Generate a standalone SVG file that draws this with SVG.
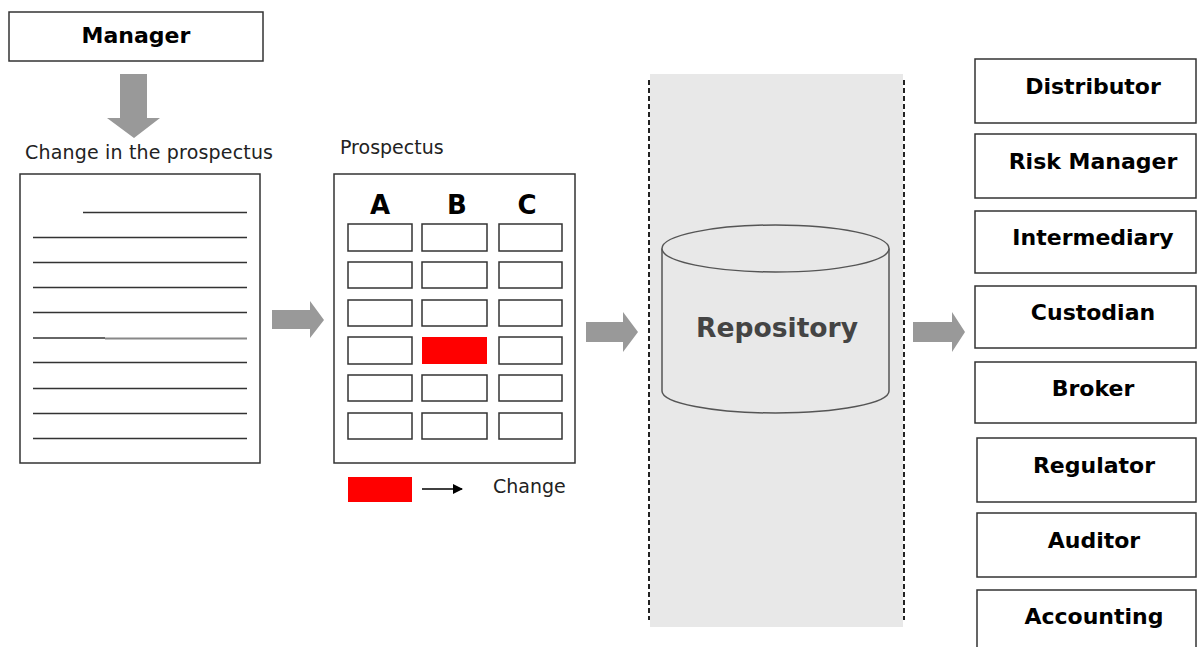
<svg xmlns="http://www.w3.org/2000/svg" width="1197" height="647" viewBox="0 0 1197 647">
<style>
.box{fill:#fff;stroke:#333;stroke-width:1.5}
.cell{fill:#fff;stroke:#333;stroke-width:1.5}
.red{fill:#f00}
.ln{stroke:#333;stroke-width:1.5}
.lbl{font-family:"DejaVu Sans",sans-serif;font-weight:bold;font-size:22px;fill:#000;text-anchor:middle}
.reg{font-family:"DejaVu Sans",sans-serif;font-size:19px;fill:#222}
.col{font-family:"DejaVu Sans",sans-serif;font-weight:bold;font-size:26px;fill:#000;text-anchor:middle}
.garrow{fill:#999}
.dash{stroke:#222;stroke-width:2;stroke-dasharray:5,3}
</style>
<defs>
<marker id="ah" markerWidth="10" markerHeight="10" refX="9" refY="5" orient="auto" markerUnits="userSpaceOnUse">
<path d="M0,0 L10,5 L0,10 Z" fill="#000"/>
</marker>
</defs>
<rect width="1197" height="647" fill="#fff"/>

<g id="manager">
<rect class="box" x="9" y="12" width="254" height="49"/>
<text class="lbl" x="136" y="43">Manager</text>
</g>

<g id="document">
<text class="reg" x="25" y="159" textLength="248" lengthAdjust="spacing">Change in the prospectus</text>
<rect class="box" x="20" y="174" width="240" height="289"/>
<line class="ln" x1="83" y1="212.5" x2="247" y2="212.5"/>
<line class="ln" x1="33" y1="237.5" x2="247" y2="237.5"/>
<line class="ln" x1="33" y1="262.5" x2="247" y2="262.5"/>
<line class="ln" x1="33" y1="287.5" x2="247" y2="287.5"/>
<line class="ln" x1="33" y1="312.5" x2="247" y2="312.5"/>
<line class="ln" x1="33" y1="338" x2="105" y2="338"/>
<line x1="105" y1="338.5" x2="247" y2="338.5" stroke="#888" stroke-width="2.2"/>
<line class="ln" x1="33" y1="362.5" x2="247" y2="362.5"/>
<line class="ln" x1="33" y1="388.5" x2="247" y2="388.5"/>
<line class="ln" x1="33" y1="413.5" x2="247" y2="413.5"/>
<line class="ln" x1="33" y1="438.5" x2="247" y2="438.5"/>
</g>

<g id="prospectus">
<text class="reg" x="340" y="154">Prospectus</text>
<rect class="box" x="334" y="174" width="241" height="289"/>
<text class="col" x="380" y="214">A</text>
<text class="col" x="457" y="214">B</text>
<text class="col" x="527" y="214">C</text>
<g>
<rect class="cell" x="348" y="224" width="64" height="27"/>
<rect class="cell" x="422" y="224" width="65" height="27"/>
<rect class="cell" x="499" y="224" width="63" height="27"/>
<rect class="cell" x="348" y="262" width="64" height="26"/>
<rect class="cell" x="422" y="262" width="65" height="26"/>
<rect class="cell" x="499" y="262" width="63" height="26"/>
<rect class="cell" x="348" y="300" width="64" height="26"/>
<rect class="cell" x="422" y="300" width="65" height="26"/>
<rect class="cell" x="499" y="300" width="63" height="26"/>
<rect class="cell" x="348" y="337" width="64" height="27"/>
<rect class="red" x="422" y="337" width="65" height="27"/>
<rect class="cell" x="499" y="337" width="63" height="27"/>
<rect class="cell" x="348" y="375" width="64" height="26"/>
<rect class="cell" x="422" y="375" width="65" height="26"/>
<rect class="cell" x="499" y="375" width="63" height="26"/>
<rect class="cell" x="348" y="413" width="64" height="26"/>
<rect class="cell" x="422" y="413" width="65" height="26"/>
<rect class="cell" x="499" y="413" width="63" height="26"/>
</g>
</g>

<g id="legend">
<rect class="red" x="348" y="477" width="64" height="25"/>
<line x1="422" y1="489" x2="462" y2="489" stroke="#000" stroke-width="1.5" marker-end="url(#ah)"/>
<text class="reg" x="493" y="493">Change</text>
</g>

<g id="repository-panel">
<rect x="650" y="74" width="253" height="553" fill="#e8e8e8"/>
<line class="dash" x1="649" y1="80" x2="649" y2="620"/>
<line class="dash" x1="904" y1="80" x2="904" y2="620"/>
</g>

<g id="repository">
<path d="M662,248.5 L662,391 A113.5,22 0 0 0 889,391 L889,248.5" fill="#e8e8e8" stroke="#555" stroke-width="1.5"/>
<ellipse cx="775.5" cy="248.5" rx="113.5" ry="23.5" fill="#e8e8e8" stroke="#555" stroke-width="1.5"/>
<text x="777" y="337" font-family="DejaVu Sans,sans-serif" font-weight="bold" font-size="27" fill="#444" text-anchor="middle" textLength="162" lengthAdjust="spacingAndGlyphs">Repository</text>
</g>

<g id="consumers">
<g id="distributor"><rect class="box" x="975" y="59" width="221" height="64"/><text class="lbl" x="1093" y="94">Distributor</text></g>
<g id="risk-manager"><rect class="box" x="975" y="134" width="221" height="64"/><text class="lbl" x="1093" y="169">Risk Manager</text></g>
<g id="intermediary"><rect class="box" x="975" y="211" width="221" height="62"/><text class="lbl" x="1093" y="245">Intermediary</text></g>
<g id="custodian"><rect class="box" x="975" y="286" width="221" height="62"/><text class="lbl" x="1093" y="320">Custodian</text></g>
<g id="broker"><rect class="box" x="975" y="362" width="221" height="61"/><text class="lbl" x="1093" y="396">Broker</text></g>
<g id="regulator"><rect class="box" x="977" y="438" width="219" height="64"/><text class="lbl" x="1094" y="473">Regulator</text></g>
<g id="auditor"><rect class="box" x="977" y="513" width="219" height="64"/><text class="lbl" x="1094" y="548">Auditor</text></g>
<g id="accounting"><rect class="box" x="977" y="590" width="219" height="64"/><text class="lbl" x="1094" y="624">Accounting</text></g>
</g>

<g id="connectors">
<path class="garrow" d="M120,74 L147,74 L147,118 L160,118 L134,138 L107,118 L120,118 Z"/>
<path class="garrow" d="M272,310 L310,310 L310,301 L324,320 L310,338 L310,329 L272,329 Z"/>
<path class="garrow" d="M586,322 L623,322 L623,312 L638,332 L623,352 L623,342 L586,342 Z"/>
<path class="garrow" d="M913,322 L952,322 L952,312 L965,332 L952,352 L952,342 L913,342 Z"/>
</g>
</svg>
